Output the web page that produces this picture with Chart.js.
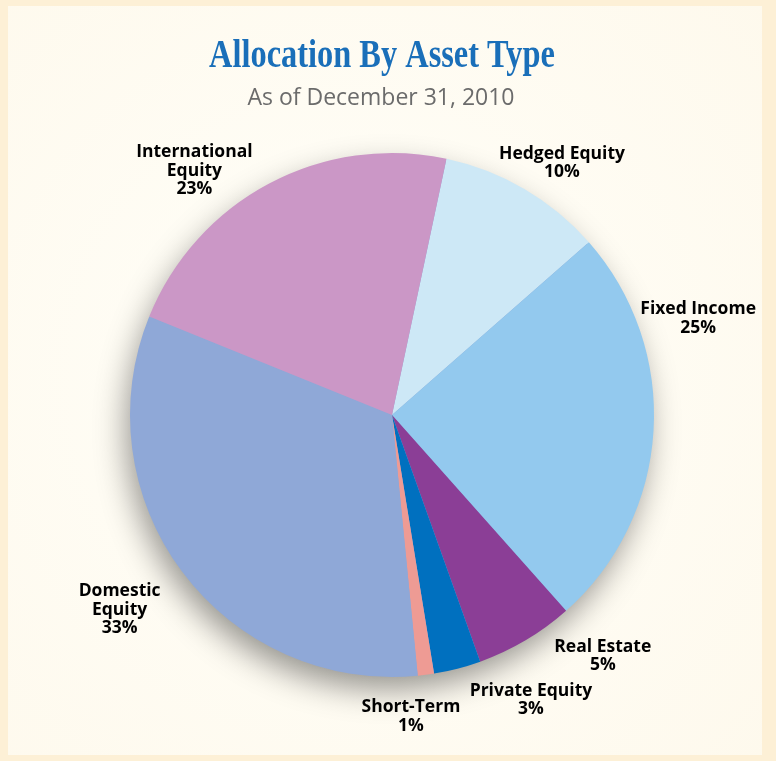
<!DOCTYPE html>
<html>
<head>
<meta charset="utf-8">
<script src="https://cdn.jsdelivr.net/npm/chart.js@4.4.0/dist/chart.umd.min.js"></script>
<style>
  html, body { margin: 0; padding: 0; background: #fdf0d6; }
  #wrap { width: 776px; height: 761px; position: relative; }
</style>
</head>
<body>
<div id="wrap"><canvas id="chart"></canvas></div>
<script>
// slice data (clockwise from the Hedged Equity edge)
const categories = ['Hedged Equity', 'Fixed Income', 'Real Estate', 'Private Equity', 'Short-Term', 'Domestic Equity', 'International Equity'];
const shares = [10.2, 24.9, 6.1, 2.9, 1.0, 32.7, 22.2];
const shareLabels = ['10%', '25%', '5%', '3%', '1%', '33%', '23%'];
const labelLines = [['Hedged Equity'], ['Fixed Income'], ['Real Estate'], ['Private Equity'], ['Short-Term'], ['Domestic', 'Equity'], ['International', 'Equity']];
const colors = ['#cde8f6', '#93c9ee', '#8b3e96', '#0070bf', '#ee9b94', '#8fa8d7', '#cb97c6'];

// where each label sits: angle (deg clockwise from top) and gap past the rim
const labelPos = [[34, 42], [72.5, 59], [138.8, 58], [154, 55], [176.4, 40], [234.4, 73], [321, 52]];

const backdrop = {
  id: 'backdrop',
  beforeDraw(chart) {
    const ctx = chart.ctx;
    const w = chart.width, h = chart.height;
    ctx.save();
    ctx.fillStyle = '#fdf0d6';
    ctx.fillRect(0, 0, w, h);
    const g = ctx.createRadialGradient(w * 0.45, h * 0.5, 50, w * 0.45, h * 0.5, 600);
    g.addColorStop(0, '#fffef8');
    g.addColorStop(1, '#fef9ec');
    ctx.fillStyle = g;
    ctx.fillRect(8, 6, w - 22, h - 12);
    ctx.restore();
  }
};

const pieShadow = {
  id: 'pieShadow',
  beforeDatasetsDraw(chart) {
    const arc = chart.getDatasetMeta(0).data[0];
    if (!arc) return;
    const ctx = chart.ctx;
    ctx.save();
    ctx.shadowColor = 'rgba(0,0,0,0.42)';
    ctx.shadowBlur = 32;
    ctx.shadowOffsetX = -5;
    ctx.shadowOffsetY = 14;
    ctx.fillStyle = '#8fa8d7';
    ctx.beginPath();
    ctx.arc(arc.x, arc.y, arc.outerRadius - 2, 0, Math.PI * 2);
    ctx.fill();
    ctx.restore();
  }
};

const headings = {
  id: 'headings',
  afterDraw(chart) {
    const ctx = chart.ctx;
    ctx.save();
    ctx.textAlign = 'center';
    ctx.textBaseline = 'alphabetic';
    ctx.fillStyle = '#1a6fb9';
    ctx.font = 'bold 41px "Liberation Serif"';
    ctx.translate(382, 67);
    ctx.scale(0.79, 1);
    ctx.fillText('Allocation By Asset Type', 0, 0);
    ctx.restore();

    ctx.save();
    ctx.textAlign = 'center';
    ctx.fillStyle = '#6b6b6b';
    ctx.font = '23px "Open Sans"';
    ctx.fillText('As of December 31, 2010', 381, 105);
    ctx.restore();
  }
};

const sliceLabels = {
  id: 'sliceLabels',
  afterDatasetsDraw(chart) {
    const arc = chart.getDatasetMeta(0).data[0];
    if (!arc) return;
    const ctx = chart.ctx;
    ctx.save();
    ctx.fillStyle = '#000';
    ctx.font = 'bold 17.5px "Open Sans"';
    ctx.textAlign = 'center';
    ctx.textBaseline = 'middle';
    const lh = 18.5;
    categories.forEach((c, i) => {
      const a = labelPos[i][0] * Math.PI / 180;
      const r = arc.outerRadius + labelPos[i][1];
      const cx = arc.x + r * Math.sin(a);
      const cy = arc.y - r * Math.cos(a);
      const lines = labelLines[i].concat([shareLabels[i]]);
      const top = cy - (lines.length - 1) * lh / 2;
      lines.forEach((t, k) => ctx.fillText(t, cx, top + k * lh));
    });
    ctx.restore();
  }
};

new Chart(document.getElementById('chart'), {
  type: 'pie',
  data: {
    labels: categories,
    datasets: [{
      data: shares,
      backgroundColor: colors,
      borderWidth: 0
    }]
  },
  options: {
    responsive: true,
    maintainAspectRatio: false,
    animation: false,
    rotation: 12,
    layout: { padding: { top: 153, bottom: 84, left: 130, right: 122 } },
    plugins: {
      legend: { display: false },
      tooltip: { enabled: false },
      title: { display: false }
    }
  },
  plugins: [backdrop, pieShadow, sliceLabels, headings]
});
</script>
</body>
</html>
